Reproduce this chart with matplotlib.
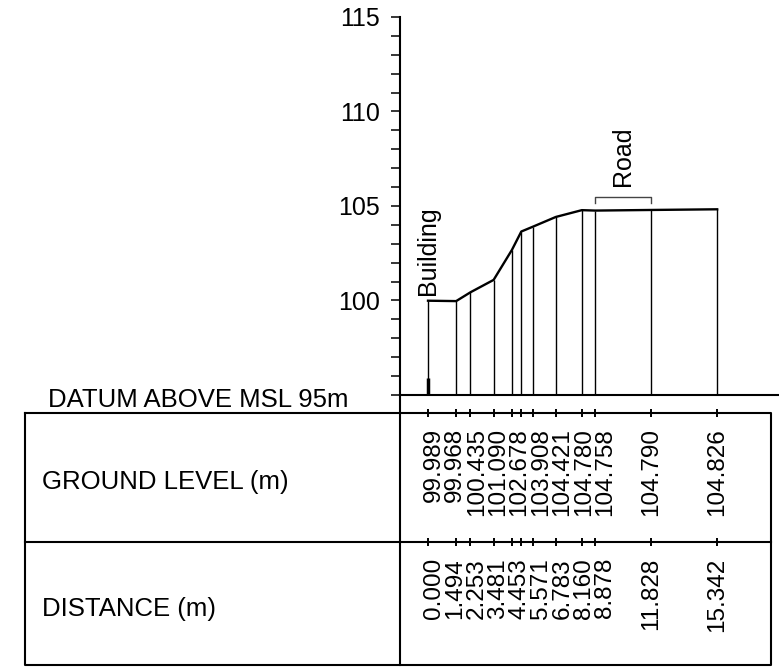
import matplotlib
matplotlib.use('Agg')
import matplotlib.pyplot as plt
from matplotlib import transforms
import numpy as np

# surveyed stations (chainage and ground level)
distance = [0.000, 1.494, 2.253, 3.481, 4.453, 5.571, 6.783, 8.160, 8.878, 11.828, 15.342]
ground_level = [99.989, 99.968, 100.435, 101.090, 102.678, 103.908, 104.421,
                104.780, 104.758, 104.790, 104.826]
# unlabelled change of grade between 4.453 and 5.571
break_distance = [4.95]
break_level = [103.65]

datum = 95
y_major = [100, 105, 110, 115]
road_span = (8.878, 11.828)
building_at = 0.0

plt.rcParams['font.family'] = ['Liberation Sans', 'DejaVu Sans']

W, H = 779, 668
fig = plt.figure(figsize=(W / 100, H / 100), dpi=100)

# pixel-coordinate overlay for the table under the profile
tab = fig.add_axes([0, 0, 1, 1])
tab.set_xlim(0, W)
tab.set_ylim(H, 0)
tab.axis('off')

# profile axes: y axis at x=400px, datum at y=395px, 115 at y=17px
ax_left, ax_bottom, ax_top = 400, 395, 17
ax = fig.add_axes([ax_left / W, (H - ax_bottom) / H, (W - ax_left) / W, (ax_bottom - ax_top) / H])
ax.patch.set_alpha(0)
px_per_m = 18.85
x0_px = 428
ax.set_xlim((ax_left - x0_px) / px_per_m, (W - x0_px) / px_per_m)
ax.set_ylim(datum, 115)

ax.spines['top'].set_visible(False)
ax.spines['right'].set_visible(False)
ax.spines['left'].set_linewidth(1.5)
ax.spines['bottom'].set_linewidth(1.5)
ax.set_xticks([])
ax.set_yticks(y_major)
ax.set_yticks(np.arange(datum, 116, 1), minor=True)
ax.tick_params(axis='y', which='both', direction='out', length=6.5, width=1.1,
               labelsize=18, pad=8)

# ground profile
prof_x = np.array(distance + break_distance)
prof_y = np.array(ground_level + break_level)
order = np.argsort(prof_x)
prof_x, prof_y = prof_x[order], prof_y[order]
ax.plot(prof_x, prof_y, color='black', lw=1.7, solid_joinstyle='round')
ax.vlines(prof_x, datum, prof_y, color='black', lw=1.0)
ax.vlines([building_at], datum, datum + 0.9, color='black', lw=2.5)

# road bracket and notes
ax.plot([road_span[0], road_span[0], road_span[1], road_span[1]],
        [105.15, 105.5, 105.5, 105.15], color='#444444', lw=1.0)
ax.text(np.mean(road_span), 106.05, 'Road', rotation=90, ha='center', va='bottom', fontsize=18)
ax.text(building_at, 100.3, 'Building', rotation=90, ha='center', va='bottom', fontsize=18)

# table frame
lw_t = 1.5
t_left, t_right, t_top, t_mid, t_bot = 25, 771, 413, 542, 665
tab.plot([t_left, t_right, t_right, t_left, t_left], [t_top, t_top, t_bot, t_bot, t_top],
         color='black', lw=lw_t)
tab.plot([t_left, t_right], [t_mid, t_mid], color='black', lw=lw_t)
tab.plot([ax_left, ax_left], [ax_bottom, t_bot], color='black', lw=lw_t)

tab.text(48, 407, 'DATUM ABOVE MSL 95m', ha='left', va='baseline', fontsize=18.5)
tab.text(42, 489, 'GROUND LEVEL (m)', ha='left', va='baseline', fontsize=18.5)
tab.text(42, 616, 'DISTANCE (m)', ha='left', va='baseline', fontsize=18.5)

# station ticks on the table rows
blend = transforms.blended_transform_factory(ax.transData, tab.transData)
for y in (t_top, t_mid):
    tab.vlines(prof_x, y - 4, y + 4, color='black', lw=1.4, transform=blend)

# row labels: crowded first stations are spread evenly, the rest sit on their station
n_dense = 9
lab_x = list(np.linspace((434 - x0_px) / px_per_m, (605 - x0_px) / px_per_m, n_dense)) + distance[n_dense:]
for x, g, d in zip(lab_x, ground_level, distance):
    tab.text(x, 428, f'{g:.3f}', rotation=90, ha='center', va='top', fontsize=17.5, transform=blend)
    tab.text(x, 558, f'{d:.3f}', rotation=90, ha='center', va='top', fontsize=17.5, transform=blend)

fig.savefig('out.png', dpi=100)
